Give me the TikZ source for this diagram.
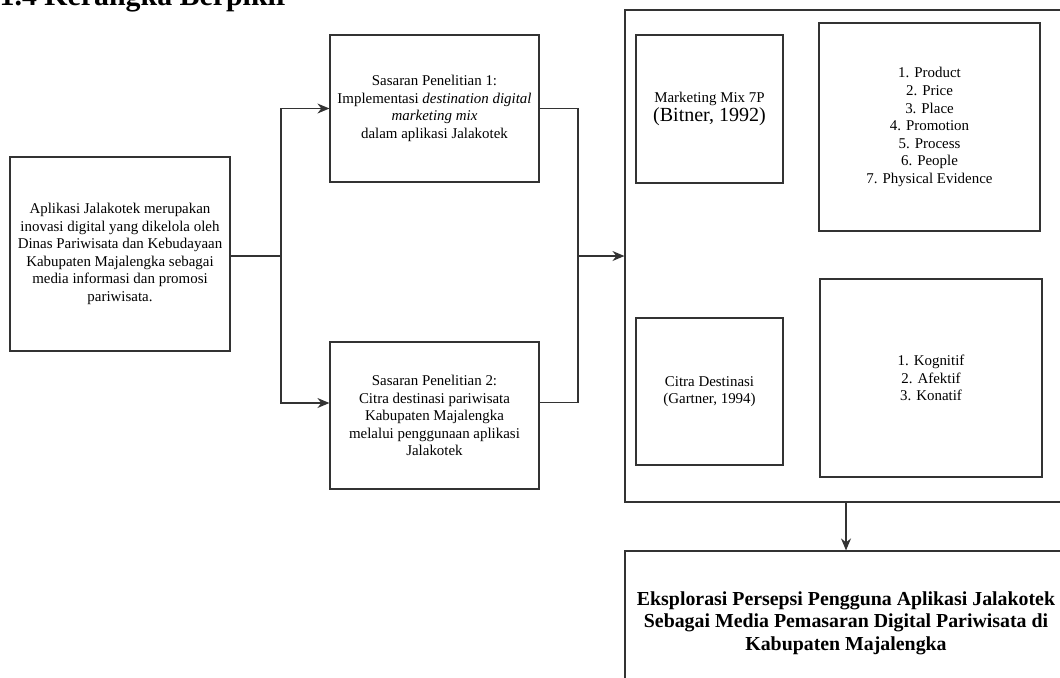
\documentclass[tikz,border=0pt]{standalone}
\usepackage{fontspec}
\setmainfont{Liberation Serif}
\usetikzlibrary{arrows.meta}
\tikzstyle{bx}=[shape=rectangle,
                draw=black!80,
                line width=0.7pt,
                align=center,
                inner sep=0pt,
                font=\fontsize{8.5}{10}\selectfont]
\tikzstyle{hd}=[anchor=base west,
                inner sep=0pt,
                font=\fontsize{17}{20}\selectfont\bfseries]

\begin{document}
\begin{tikzpicture}[x=0.02cm,y=-0.02cm,>={Stealth[length=2.4mm,width=2mm]},line width=0.7pt,draw=black!80]
\useasboundingbox (0,0) rectangle (1060,677);

% heading (cut off at the top)
\node[hd] (title) at (-1,5) {1.4 Kerangka Berpikir};

% starting point
\node[bx, minimum width=4.4cm, minimum height=3.88cm] (intro) at (120,254)
  {Aplikasi Jalakotek merupakan\\inovasi digital yang dikelola oleh\\Dinas Pariwisata dan Kebudayaan\\Kabupaten Majalengka sebagai\\media informasi dan promosi\\pariwisata.};

% research goals
\node[bx, minimum width=4.18cm, minimum height=2.94cm] (goal1) at (434.5,108.5)
  {Sasaran Penelitian 1:\\Implementasi \textit{destination digital}\\\textit{marketing mix}\\dalam aplikasi Jalakotek};
\node[bx, minimum width=4.18cm, minimum height=2.94cm] (goal2) at (434.5,415.5)
  {Sasaran Penelitian 2:\\Citra destinasi pariwisata\\Kabupaten Majalengka\\melalui penggunaan aplikasi\\Jalakotek};

% theory frame
\node[bx, minimum width=8.84cm, minimum height=9.84cm] (frame) at (846,256) {};
\node[bx, minimum width=2.94cm, minimum height=2.96cm] (mm7p) at (709.5,109)
  {Marketing Mix 7P\\[1pt]{\fontsize{11.4}{13}\selectfont (Bitner, 1992)}};
\node[bx, minimum width=4.42cm, minimum height=4.16cm] (mmlist) at (929.5,127)
  {1. Product\\2. Price\\3. Place\\4. Promotion\\5. Process\\6. People\\7. Physical Evidence};
\node[bx, minimum width=2.94cm, minimum height=2.94cm] (citra) at (709.5,391.5)
  {Citra Destinasi\\(Gartner, 1994)};
\node[bx, minimum width=4.44cm, minimum height=3.96cm] (dimlist) at (931,378)
  {1. Kognitif\\2. Afektif\\3. Konatif};

% result
\node[bx, minimum width=8.84cm, minimum height=2.88cm,
      font=\fontsize{11.3}{12.8}\selectfont\bfseries] (result) at (846,623)
  {Eksplorasi Persepsi Pengguna Aplikasi Jalakotek\\Sebagai Media Pemasaran Digital Pariwisata di\\Kabupaten Majalengka};

% junctions
\coordinate (split) at (281,256);
\coordinate (merge) at (578,256);

% paths
\draw (intro.east |- split) -- (split);
\draw[->] (split) |- (goal1.west);
\draw[->] (split) |- ([yshift=0.25cm]goal2.west);
\draw (goal1.east) -| (merge);
\draw ([yshift=0.26cm]goal2.east) -| (merge);
\draw[->] (merge) -- (frame.west);
\draw[->] (frame.south) -- (result.north);
\end{tikzpicture}
\end{document}
